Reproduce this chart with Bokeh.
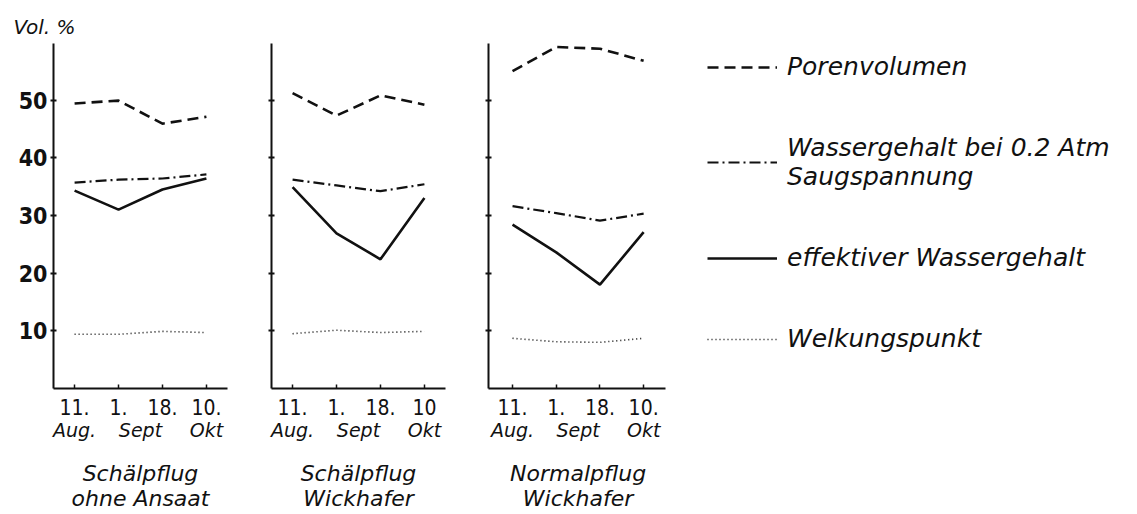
from bokeh.plotting import figure
from bokeh.layouts import row
from bokeh.models import LinearAxis, FixedTicker, Legend, LegendItem, Range1d
from bokeh.embed import file_html
from bokeh.resources import INLINE

# ---- data ----
x_pos = [0, 1, 2, 3]
date_labels = [["11.", "1.", "18.", "10."],
               ["11.", "1.", "18.", "10"],
               ["11.", "1.", "18.", "10."]]
month_pos = [0, 1.5, 3]
month_labels = ["Aug.", "Sept", "Okt"]
caption_line1 = ["Schälpflug", "Schälpflug", "Normalpflug"]
caption_line2 = ["ohne Ansaat", "Wickhafer", "Wickhafer"]
y_ticks = [10, 20, 30, 40, 50]

porenvolumen = [[49.4, 49.9, 45.9, 47.1],
                [51.2, 47.3, 50.8, 49.2],
                [55.0, 59.2, 58.9, 56.8]]
wasser_02atm = [[35.7, 36.2, 36.4, 37.1],
                [36.2, 35.2, 34.2, 35.4],
                [31.6, 30.4, 29.1, 30.3]]
effektiv = [[34.3, 31.0, 34.5, 36.4],
            [34.9, 26.9, 22.4, 33.0],
            [28.4, 23.6, 18.0, 27.1]]
welkungspunkt = [[9.4, 9.4, 9.9, 9.7],
                 [9.5, 10.1, 9.7, 9.9],
                 [8.7, 8.1, 8.0, 8.7]]

legend_labels = ["Porenvolumen",
                 "Wassergehalt bei 0.2 Atm\nSaugspannung",
                 "effektiver Wassergehalt",
                 "Welkungspunkt"]

INK = "#111111"
NUM_FONT = "DejaVu Sans Condensed, DejaVu Sans"
HAND_FONT = "DejaVu Sans"

H = 514
TOP = 43
FRAME_H = 345
BOTTOM = H - TOP - FRAME_H


def make_panel(i, left, frame_w, right, x_start, x_end, axis_end, show_y_labels):
    p = figure(width=left + frame_w + right, height=H,
               x_range=Range1d(x_start, x_end), y_range=Range1d(0, 59.8),
               x_axis_type=None, y_axis_type=None,
               output_backend="svg", toolbar_location=None,
               min_border_left=left, min_border_right=right,
               min_border_top=TOP, min_border_bottom=BOTTOM)
    p.outline_line_color = None
    p.background_fill_color = "white"
    p.border_fill_color = "white"

    # y axis
    ya = LinearAxis(ticker=FixedTicker(ticks=y_ticks))
    ya.axis_line_width = 2
    ya.axis_line_color = INK
    ya.major_tick_line_color = INK
    ya.major_tick_line_width = 2
    ya.major_tick_in = 3
    ya.major_tick_out = 3
    ya.minor_tick_line_color = None
    ya.major_label_standoff = 3
    ya.major_label_text_font = NUM_FONT
    ya.major_label_text_font_size = "23px"
    ya.major_label_text_font_style = "bold"
    ya.major_label_text_color = INK
    if not show_y_labels:
        ya.major_label_overrides = {t: "" for t in y_ticks}
    p.add_layout(ya, "left")

    # x axis with day numbers
    xa = LinearAxis(ticker=FixedTicker(ticks=x_pos), bounds=(x_start, axis_end))
    xa.major_label_overrides = {x: lab for x, lab in zip(x_pos, date_labels[i])}
    xa.axis_line_width = 2
    xa.axis_line_color = INK
    xa.major_tick_line_color = INK
    xa.major_tick_line_width = 1.5
    xa.major_tick_in = 4
    xa.major_tick_out = 0
    xa.minor_tick_line_color = None
    xa.major_label_standoff = 10
    xa.major_label_text_font = NUM_FONT
    xa.major_label_text_font_size = "21px"
    xa.major_label_text_color = INK
    p.add_layout(xa, "below")

    # month names
    ma = LinearAxis(ticker=FixedTicker(ticks=month_pos))
    ma.major_label_overrides = {x: lab for x, lab in zip(month_pos, month_labels)}
    ma.axis_line_color = None
    ma.major_tick_line_color = None
    ma.minor_tick_line_color = None
    ma.major_label_standoff = -5
    ma.major_label_text_font = HAND_FONT
    ma.major_label_text_font_size = "19px"
    ma.major_label_text_font_style = "italic"
    ma.major_label_text_color = INK
    p.add_layout(ma, "below")

    # caption lines
    for txt, so in [(caption_line1[i], 11), (caption_line2[i], -9)]:
        ca = LinearAxis(ticker=FixedTicker(ticks=[1.5]))
        ca.major_label_overrides = {1.5: txt}
        ca.axis_line_color = None
        ca.major_tick_line_color = None
        ca.minor_tick_line_color = None
        ca.major_label_standoff = so
        ca.major_label_text_font = HAND_FONT
        ca.major_label_text_font_size = "22px"
        ca.major_label_text_font_style = "italic"
        ca.major_label_text_color = INK
        p.add_layout(ca, "below")

    r_poren = p.line(x_pos, porenvolumen[i], line_color=INK, line_width=2.6,
                     line_dash="11 6")
    r_wasser = p.line(x_pos, wasser_02atm[i], line_color=INK, line_width=2.2,
                      line_dash="11 4 2 4")
    r_eff = p.line(x_pos, effektiv[i], line_color=INK, line_width=2.6)
    r_welk = p.line(x_pos, welkungspunkt[i], line_color=INK, line_width=1.6,
                    line_dash="1 3")
    return p, [r_poren, r_wasser, r_eff, r_welk]


p1, _ = make_panel(0, 53, 174, 22, -0.48, 3.48, 3.48, True)
p2, _ = make_panel(1, 22, 174, 21, -0.48, 3.48, 3.48, False)
# the third frame also holds the legend area on its right
p3, rs = make_panel(2, 22, 645, 2, -0.55, -0.55 + 645 / 43.7, 3.5, False)

p1.title.text = "Vol. %"
p1.title.align = "left"
p1.title.offset = -40
p1.title.standoff = 9
p1.title.text_font = HAND_FONT
p1.title.text_font_style = "italic"
p1.title.text_font_size = "20px"
p1.title.text_color = INK

legend = Legend(items=[LegendItem(label=lab, renderers=[r])
                       for lab, r in zip(legend_labels, rs)],
                location=(219, 35))
legend.glyph_width = 70
legend.glyph_height = 22
legend.label_standoff = 10
legend.spacing = 52
legend.padding = 0
legend.margin = 0
legend.border_line_color = None
legend.background_fill_alpha = 0
legend.label_text_font = HAND_FONT
legend.label_text_font_style = "italic"
legend.label_text_font_size = "25px"
legend.label_text_color = INK
p3.add_layout(legend)

layout = row(p1, p2, p3)
open("out.html", "w").write(file_html(layout, INLINE))
